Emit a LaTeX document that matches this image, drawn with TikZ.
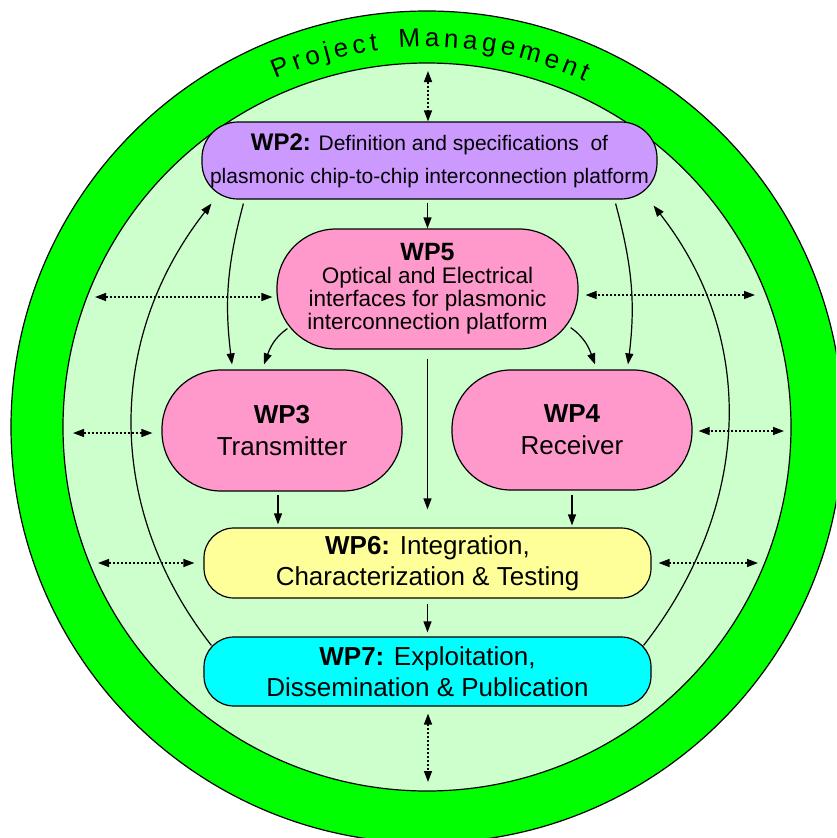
\documentclass[tikz,border=0pt]{standalone}
\usepackage{fontspec}
\setmainfont{Liberation Sans}
\usetikzlibrary{arrows.meta,decorations.text}
\definecolor{ringgreen}{HTML}{00FF00}
\definecolor{innergreen}{HTML}{CCFFCC}
\definecolor{wplilac}{HTML}{CC99FF}
\definecolor{wppink}{HTML}{FF99CC}
\definecolor{wpyellow}{HTML}{FFFF99}
\definecolor{wpcyan}{HTML}{00FFFF}
\pgfdeclarelayer{ring}
\pgfdeclarelayer{links}
\pgfsetlayers{ring,links,main}
\newcommand{\pmfont}{\fontsize{26}{26}\selectfont}
\begin{document}
\begin{tikzpicture}[x=1pt,y=1pt,
  wpbox/.style={draw=black, line width=1.2pt, rounded corners=#1, inner sep=0pt,
    align=center, text=black},
  arr/.style={line width=1.2pt, -{Triangle[length=11pt,width=8pt]}},
  dbl/.style={line width=1.4pt, dash pattern=on 2pt off 2pt,
    {Triangle[length=11pt,width=8pt]}-{Triangle[length=11pt,width=8pt]}}]
\path[use as bounding box] (0,0) rectangle (836,-838);

% work package boxes
\node[wpbox=36, fill=wplilac, minimum width=455pt, minimum height=77pt,
  font=\fontsize{21}{33}\selectfont] (wp2) at (429.5,-160.5)
  {{\fontsize{24}{33}\selectfont\bfseries WP2:} Definition and specifications~ of\\
   plasmonic chip-to-chip interconnection platform};
\node[wpbox=59, fill=wppink, minimum width=301pt, minimum height=120pt,
  font=\fontsize{22.5}{23}\selectfont] (wp5) at (427.5,-289)
  {{\fontsize{25}{23}\selectfont\bfseries WP5}\\Optical and Electrical\\
   interfaces for plasmonic\\interconnection platform};
\node[wpbox=59, fill=wppink, minimum width=240pt, minimum height=121pt,
  font=\fontsize{26}{32}\selectfont] (wp3) at (282,-430.5)
  {\textbf{WP3}\\Transmitter};
\node[wpbox=59, fill=wppink, minimum width=240pt, minimum height=120pt,
  font=\fontsize{26}{32}\selectfont] (wp4) at (572,-430)
  {\textbf{WP4}\\Receiver};
\node[wpbox=30, fill=wpyellow, minimum width=447pt, minimum height=70pt,
  font=\fontsize{26}{31}\selectfont] (wp6) at (427.5,-563)
  {\textbf{WP6:} Integration,\\Characterization \& Testing};
\node[wpbox=30, fill=wpcyan, minimum width=447pt, minimum height=69pt,
  font=\fontsize{26}{31}\selectfont] (wp7) at (427.5,-671.5)
  {\textbf{WP7:} Exploitation,\\Dissemination \& Publication};

% management ring
\begin{pgfonlayer}{ring}
  \begin{scope}
    \clip (0,0) rectangle (836,-838);
    \coordinate (ctr) at (427,-427);
    \draw[line width=1.2pt, fill=ringgreen] (ctr) circle[radius=416];
    \draw[line width=1.2pt, fill=innergreen] (ctr) circle[radius=364];
  \end{scope}
  \path[decorate, decoration={text along path,
      text={|\pmfont|Project{\hspace*{12pt}}Management}, text align=fit to path}]
    ([shift={(113.5:380)}]ctr) arc[start angle=113.5, end angle=65.5, radius=380];
\end{pgfonlayer}

% free ends of the links to the management ring
\coordinate (ptop) at (428,-64);
\coordinate (pbot) at (428,-790);
\coordinate (l1) at (95,-297);
\coordinate (r1) at (755,-295);
\coordinate (l2) at (73,-433);
\coordinate (r2) at (784,-431);
\coordinate (l3) at (98,-563);
\coordinate (r3) at (758,-563);

\begin{pgfonlayer}{links}
  % work flow
  \draw[arr, shorten <=3pt] (wp5.north |- wp2.south) -- (wp5.north);
  \draw[arr, shorten <=9pt, shorten >=18pt] (wp5.south) -- (wp5.south |- wp6.north);
  \draw[arr, shorten <=3pt, shorten >=3pt] ([xshift=-4pt]wp3.south) -- ([xshift=-4pt]wp3.south |- wp6.north);
  \draw[arr, shorten <=4pt, shorten >=2pt] (wp4.south) -- (wp4.south |- wp6.north);
  \draw[arr, shorten <=5pt, shorten >=4pt] (wp6.south) -- (wp7.north);
  \draw[arr] ([shift={(42,-4)}]wp2.south west) to[out=-105,in=97] ([shift={(-50,5)}]wp3.north);
  \draw[arr] ([shift={(-42,-4)}]wp2.south east) to[out=-75,in=83] ([shift={(56,5)}]wp4.north);
  \draw[arr] ([shift={(11,21)}]wp5.south west) to[out=-145,in=70] ([shift={(-18,5)}]wp3.north);
  \draw[arr] ([shift={(-8,22)}]wp5.south east) to[out=-35,in=110] ([shift={(23,5)}]wp4.north);
  \draw[arr] ([shift={(8,-9)}]wp7.north west) to[out=128,in=-128] ([shift={(10,-4)}]wp2.south west);
  \draw[arr] ([shift={(-8,-9)}]wp7.north east) to[out=52,in=-52] ([shift={(-4,-6)}]wp2.south east);
  % management links
  \draw[dbl, shorten <=7pt] (ptop) -- (ptop |- wp2.north);
  \draw[dbl, shorten <=7pt, shorten >=8pt] (pbot |- wp7.south) -- (pbot);
  \draw[dbl, shorten >=4pt] (l1) -- (l1 -| wp5.west);
  \draw[dbl, shorten >=7pt] (r1) -- (r1 -| wp5.east);
  \draw[dbl, shorten >=9pt] (l2) -- (l2 -| wp3.west);
  \draw[dbl, shorten >=6pt] (r2) -- (r2 -| wp4.east);
  \draw[dbl, shorten >=9pt] (l3) -- (l3 -| wp6.west);
  \draw[dbl, shorten >=7pt] (r3) -- (r3 -| wp6.east);
\end{pgfonlayer}
\end{tikzpicture}
\end{document}
